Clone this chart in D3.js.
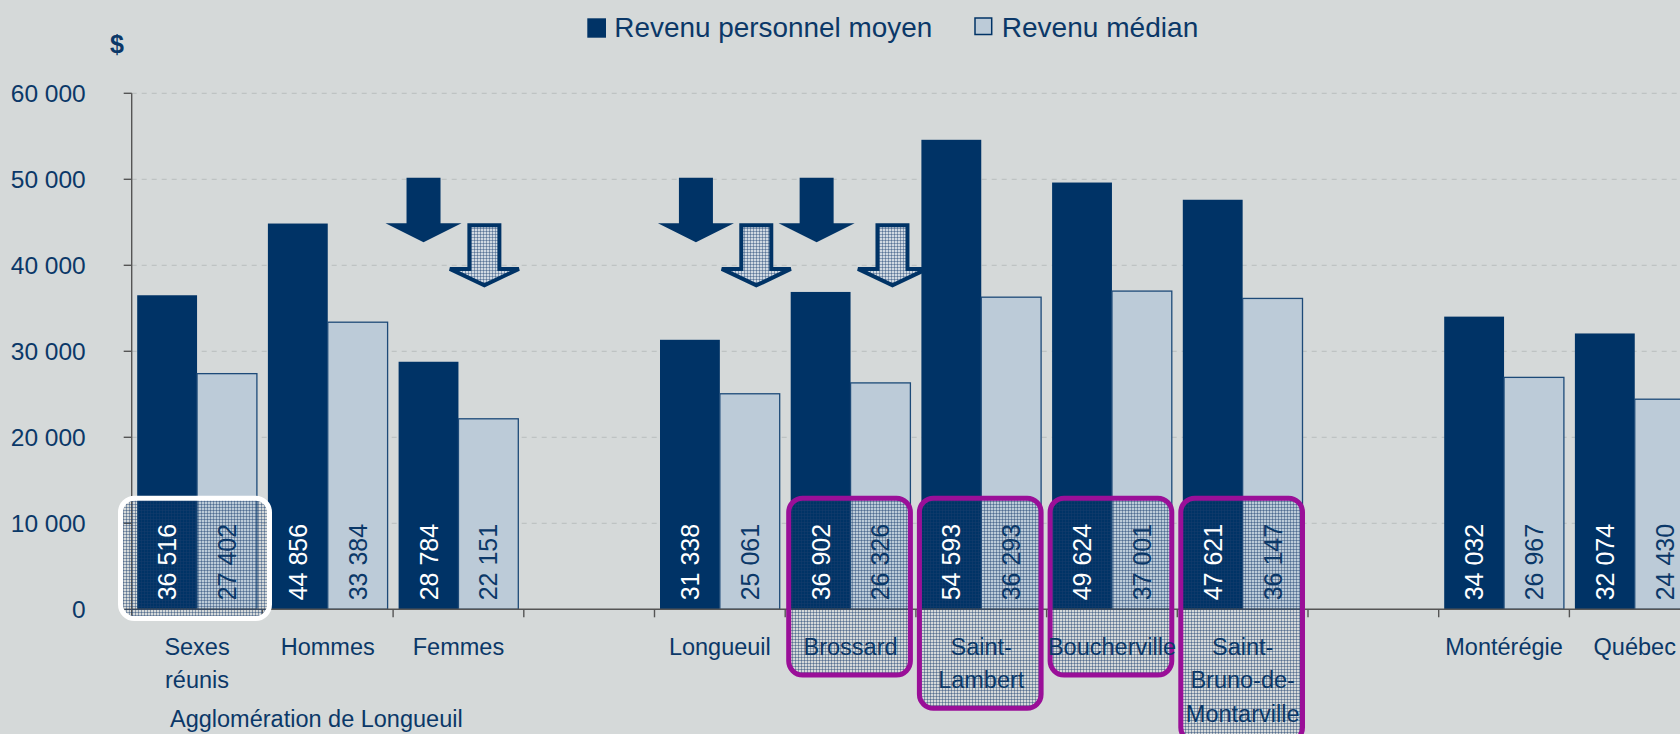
<!DOCTYPE html>
<html>
<head>
<meta charset="utf-8">
<script src="https://cdn.jsdelivr.net/npm/d3@7"></script>
<style>
  body { margin: 0; background: #d5d9d9; overflow: hidden; }
  svg { display: block; font-family: "Liberation Sans", Arial, sans-serif; }
</style>
</head>
<body>
<div id="chart"></div>
<script>
const categories = ['Sexes réunis', 'Hommes', 'Femmes', '', 'Longueuil', 'Brossard', 'Saint-Lambert',
  'Boucherville', 'Saint-Bruno-de-Montarville', ' ', 'Montérégie', 'Québec'];
const meanIncome = [36516, 44856, 28784, null, 31338, 36902, 54593, 49624, 47621, null, 34032, 32074];
const medianIncome = [27402, 33384, 22151, null, 25061, 26326, 36293, 37001, 36147, null, 26967, 24430];
const yTicks = [0, 10000, 20000, 30000, 40000, 50000, 60000];
const seriesNames = ['Revenu personnel moyen', 'Revenu médian'];
const groupLabel = 'Agglomération de Longueuil';
const unitLabel = '$';
const dropCategories = ['Femmes', 'Longueuil', 'Brossard'];
// hand-placed arrows sit a little off the bar centres
const dropShiftMean = [-5, 6, -4];
const dropShiftMedian = [-4, 6.5, 12];
const whiteBoxCategories = ['Sexes réunis'];
const purpleBoxCategories = ['Brossard', 'Saint-Lambert', 'Boucherville', 'Saint-Bruno-de-Montarville'];

class IncomeChart {
  constructor(_config) {
    this.config = {
      parentElement: _config.parentElement,
      containerWidth: 1680,
      containerHeight: 734,
      axisX: 131.7,
      bandWidth: 130.7,
      yTop: 93.3,
      yZero: 609.3,
      navy: '#003366',
      light: '#bccbd8',
      text: '#0b3868',
      purple: '#9a0f98'
    };
    this.initVis();
  }

  initVis() {
    let vis = this;
    const c = vis.config;

    vis.svg = d3.select(c.parentElement).append('svg')
      .attr('width', c.containerWidth)
      .attr('height', c.containerHeight);

    vis.svg.append('rect')
      .attr('width', c.containerWidth).attr('height', c.containerHeight)
      .attr('fill', '#d5d9d9');

    const defs = vis.svg.append('defs');
    const mesh = defs.append('pattern').attr('id', 'mesh')
      .attr('width', 3).attr('height', 3).attr('patternUnits', 'userSpaceOnUse');
    mesh.append('path').attr('d', 'M0,0.5H3M0.5,0V3')
      .attr('stroke', '#1a3f6e').attr('stroke-width', 1).attr('stroke-opacity', 0.42);

    const meshLight = defs.append('pattern').attr('id', 'mesh-light')
      .attr('width', 3).attr('height', 3).attr('patternUnits', 'userSpaceOnUse');
    meshLight.append('rect').attr('width', 3).attr('height', 3).attr('fill', '#d0d9e2');
    meshLight.append('path').attr('d', 'M0,0.5H3M0.5,0V3')
      .attr('stroke', '#1a3f6e').attr('stroke-width', 1).attr('stroke-opacity', 0.4);

    vis.x0 = d3.scaleBand()
      .domain(categories)
      .range([c.axisX, c.axisX + c.bandWidth * categories.length])
      .padding(0);

    vis.x1 = d3.scaleBand()
      .domain(['mean', 'median'])
      .range([5.5, vis.x0.bandwidth() - 5.5]);

    vis.y = d3.scaleLinear()
      .domain([0, 60000])
      .range([c.yZero, c.yTop]);

    vis.fmt = d3.formatLocale({ decimal: ',', thousands: ' ', grouping: [3], currency: ['', ' $'] }).format(',d');

    vis.data = categories.map((cat, i) => ({ cat, mean: meanIncome[i], median: medianIncome[i] }))
      .filter(d => d.mean !== null);

    vis.renderVis();
  }

  wrapLines(text, maxWidth, fontSize) {
    let vis = this;
    const probe = vis.svg.append('text').attr('font-size', fontSize);
    const tokens = text.split(/(?<=[- ])/);
    const lines = [];
    let current = '';
    tokens.forEach(tok => {
      const trial = current + tok;
      probe.text(trial.trim());
      if (current && probe.node().getComputedTextLength() > maxWidth) {
        lines.push(current.trim());
        current = tok;
      } else {
        current = trial;
      }
    });
    if (current.trim()) lines.push(current.trim());
    probe.remove();
    return lines;
  }

  renderVis() {
    let vis = this;
    const c = vis.config;
    const bw = vis.x0.bandwidth();
    const right = c.containerWidth;
    const barCenter = (cat, key) => vis.x0(cat) + vis.x1(key) + vis.x1.bandwidth() / 2;

    // gridlines
    vis.svg.append('g').selectAll('line')
      .data(yTicks.filter(t => t > 0))
      .join('line')
      .attr('x1', c.axisX).attr('x2', right)
      .attr('y1', d => vis.y(d)).attr('y2', d => vis.y(d))
      .attr('stroke', '#b8bdbd').attr('stroke-width', 1)
      .attr('stroke-dasharray', '5,5');

    // bars
    const groups = vis.svg.append('g').selectAll('g')
      .data(vis.data)
      .join('g')
      .attr('transform', d => `translate(${vis.x0(d.cat)},0)`);

    groups.append('rect')
      .attr('x', vis.x1('mean'))
      .attr('y', d => vis.y(d.mean))
      .attr('width', vis.x1.bandwidth())
      .attr('height', d => vis.y(0) - vis.y(d.mean))
      .attr('fill', c.navy);

    groups.append('rect')
      .attr('x', vis.x1('median'))
      .attr('y', d => vis.y(d.median))
      .attr('width', vis.x1.bandwidth())
      .attr('height', d => vis.y(0) - vis.y(d.median))
      .attr('fill', c.light)
      .attr('stroke', '#1d4a78')
      .attr('stroke-width', 1.3);

    // axes
    vis.svg.append('line')
      .attr('x1', c.axisX).attr('x2', c.axisX)
      .attr('y1', c.yTop).attr('y2', c.yZero)
      .attr('stroke', '#555').attr('stroke-width', 1.4);

    vis.svg.append('g').selectAll('line')
      .data(yTicks)
      .join('line')
      .attr('x1', c.axisX - 8).attr('x2', c.axisX)
      .attr('y1', d => vis.y(d)).attr('y2', d => vis.y(d))
      .attr('stroke', '#555').attr('stroke-width', 1.4);

    vis.svg.append('g').selectAll('text')
      .data(yTicks)
      .join('text')
      .attr('x', 85.7)
      .attr('y', d => vis.y(d))
      .attr('dy', '0.36em')
      .attr('text-anchor', 'end')
      .attr('font-size', 24.5)
      .attr('fill', c.text)
      .text(d => vis.fmt(d));

    vis.svg.append('line')
      .attr('x1', c.axisX).attr('x2', right)
      .attr('y1', c.yZero).attr('y2', c.yZero)
      .attr('stroke', '#555').attr('stroke-width', 1.4);

    vis.svg.append('g').selectAll('line')
      .data(categories)
      .join('line')
      .attr('x1', d => vis.x0(d)).attr('x2', d => vis.x0(d))
      .attr('y1', c.yZero).attr('y2', c.yZero + 8)
      .attr('stroke', '#555').attr('stroke-width', 1.4);

    // category label lines
    const labelSize = 23.5;
    const firstBaseline = 655;
    const lineHeight = 33.3;
    const labelLines = {};
    categories.forEach(cat => { labelLines[cat] = cat.trim() ? vis.wrapLines(cat, 122, labelSize) : []; });

    // highlight boxes
    const boxTop = 495.7;
    const whiteBoxes = whiteBoxCategories.map(cat => ({
      x: vis.x0(cat) - 13.7 + 2.5, w: bw + 23.3 - 5,
      y: boxTop + 2.5, h: 621 - boxTop - 5, stroke: '#ffffff'
    }));
    const purpleBoxes = purpleBoxCategories.map(cat => {
      const n = labelLines[cat].length;
      const bottom = firstBaseline + (n - 1) * lineHeight + 22.5;
      return { x: vis.x0(cat) + 1 + 2.5, w: bw - 9, y: boxTop + 2.5, h: bottom - boxTop - 5, stroke: c.purple };
    });

    vis.svg.append('g').selectAll('rect')
      .data(whiteBoxes.concat(purpleBoxes))
      .join('rect')
      .attr('x', d => d.x).attr('y', d => d.y)
      .attr('width', d => d.w).attr('height', d => d.h)
      .attr('rx', 14).attr('ry', 14)
      .attr('fill', 'url(#mesh)')
      .attr('stroke', d => d.stroke)
      .attr('stroke-width', 5);

    // value labels inside bars
    const valueLabels = [];
    vis.data.forEach(d => {
      valueLabels.push({ x: barCenter(d.cat, 'mean'), v: d.mean, fill: '#ffffff' });
      valueLabels.push({ x: barCenter(d.cat, 'median'), v: d.median, fill: c.text });
    });
    vis.svg.append('g').selectAll('text')
      .data(valueLabels)
      .join('text')
      .attr('transform', d => `translate(${d.x},${c.yZero - 9}) rotate(-90)`)
      .attr('dy', '0.36em')
      .attr('font-size', 25)
      .attr('fill', d => d.fill)
      .text(d => vis.fmt(d.v));

    // category labels
    const catText = vis.svg.append('g').selectAll('text')
      .data(categories.filter(cat => cat.trim()))
      .join('text')
      .attr('text-anchor', 'middle')
      .attr('font-size', labelSize)
      .attr('fill', c.text);
    catText.selectAll('tspan')
      .data(cat => labelLines[cat].map(line => ({ cat, line })))
      .join('tspan')
      .attr('x', d => vis.x0(d.cat) + bw / 2)
      .attr('y', (d, i) => firstBaseline + i * lineHeight)
      .text(d => d.line);

    vis.svg.append('text')
      .attr('x', 170).attr('y', 727)
      .attr('font-size', labelSize)
      .attr('fill', c.text)
      .text(groupLabel);

    // decline arrows
    const arrowPath = (cx, top, shaft, head, len, tip) =>
      `M${cx - shaft},${top}H${cx + shaft}V${top + len}H${cx + head}L${cx},${top + len + tip}L${cx - head},${top + len}H${cx - shaft}Z`;
    const solidTop = vis.y(50000) - 1.6;
    const arrows = vis.svg.append('g');
    arrows.selectAll('path.solid')
      .data(dropCategories)
      .join('path')
      .attr('class', 'solid')
      .attr('d', (cat, i) => arrowPath(barCenter(cat, 'mean') + dropShiftMean[i], solidTop, 17, 38, 45.6, 19))
      .attr('fill', c.navy);
    arrows.selectAll('path.hatched')
      .data(dropCategories)
      .join('path')
      .attr('class', 'hatched')
      .attr('d', (cat, i) => arrowPath(barCenter(cat, 'median') + dropShiftMedian[i], solidTop + 45.6 + 2, 15, 34.5, 43.6, 16.5))
      .attr('fill', 'url(#mesh-light)')
      .attr('stroke', c.navy)
      .attr('stroke-width', 4)
      .attr('stroke-linejoin', 'miter');

    // legend
    const legend = vis.svg.append('g');
    legend.append('rect')
      .attr('x', 587.3).attr('y', 18.3).attr('width', 18.7).attr('height', 19.4)
      .attr('fill', c.navy);
    legend.append('text')
      .attr('x', 614.3).attr('y', 36.5)
      .attr('font-size', 28).attr('fill', c.text)
      .attr('textLength', 318).attr('lengthAdjust', 'spacingAndGlyphs')
      .text(seriesNames[0]);
    legend.append('rect')
      .attr('x', 975).attr('y', 18).attr('width', 16.7).attr('height', 16.5)
      .attr('fill', c.light).attr('stroke', c.navy).attr('stroke-width', 1.5);
    legend.append('text')
      .attr('x', 1001.7).attr('y', 36.5)
      .attr('font-size', 28).attr('fill', c.text)
      .attr('textLength', 196.6).attr('lengthAdjust', 'spacingAndGlyphs')
      .text(seriesNames[1]);

    vis.svg.append('text')
      .attr('x', 117).attr('y', 53)
      .attr('text-anchor', 'middle')
      .attr('font-size', 25).attr('font-weight', 'bold')
      .attr('fill', c.text)
      .text(unitLabel);
  }
}

new IncomeChart({ parentElement: '#chart' });
</script>
</body>
</html>
